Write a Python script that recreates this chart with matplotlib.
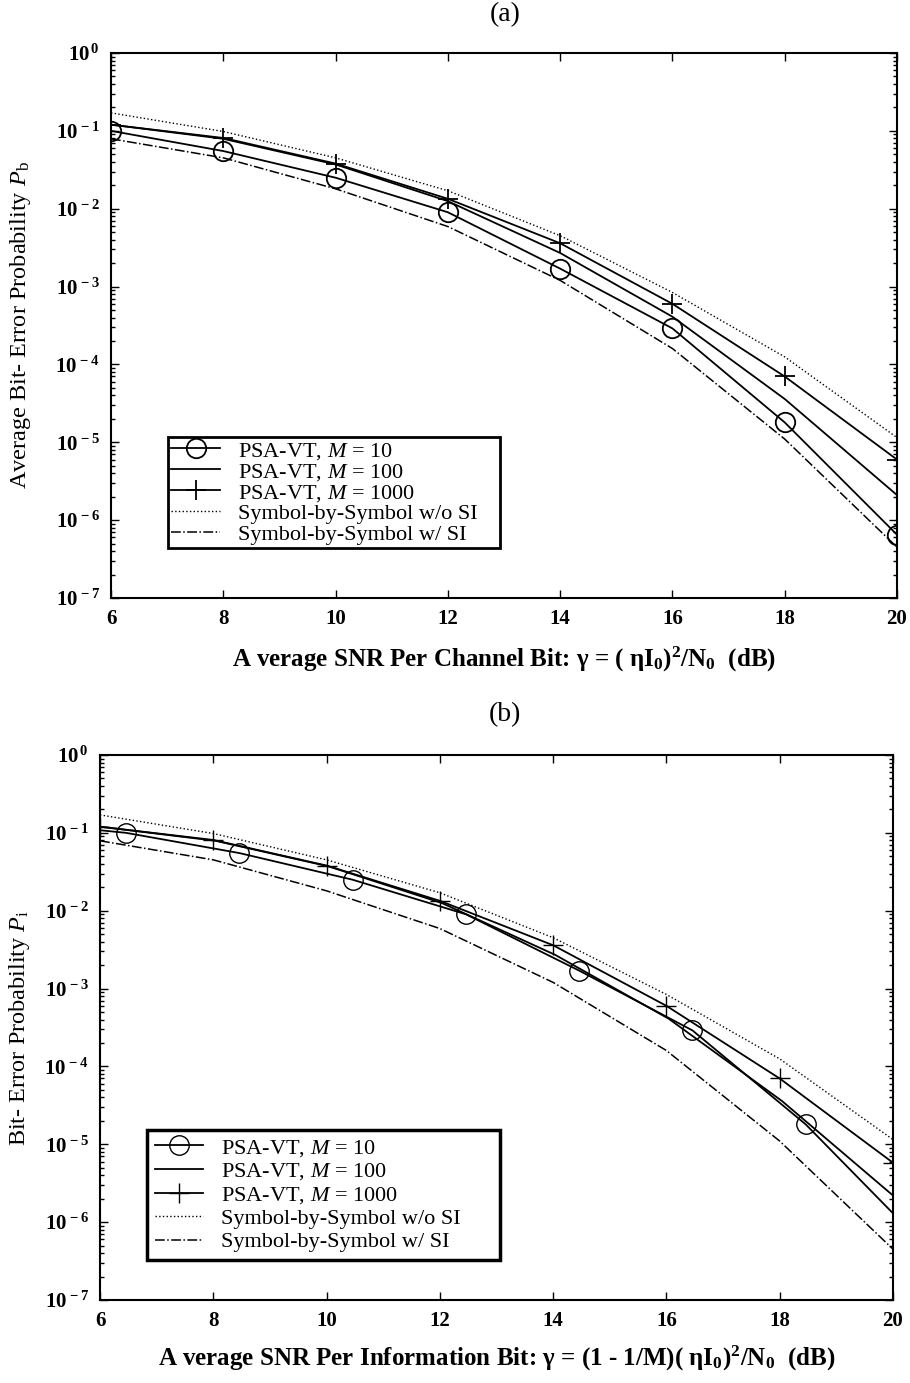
import numpy as np
import matplotlib
matplotlib.use("Agg")
from matplotlib import pyplot as plt
from matplotlib.ticker import LogLocator, FixedLocator, NullFormatter, FuncFormatter

plt.rcParams['font.family'] = ['Liberation Serif', 'DejaVu Serif']
plt.rcParams['mathtext.fontset'] = 'custom'
plt.rcParams['mathtext.rm'] = 'Liberation Serif'
plt.rcParams['mathtext.it'] = 'Liberation Serif:italic'
plt.rcParams['mathtext.bf'] = 'Liberation Serif:bold'
plt.rcParams['mathtext.default'] = 'regular'
plt.rcParams['axes.unicode_minus'] = False

# channel SNR grid (dB), panel (a)
snr = [6, 8, 10, 12, 14, 16, 18, 20]
a_m10 = [0.10, 0.055, 0.025, 0.0090, 0.0017, 2.9e-4, 1.8e-5, 6.5e-7]
a_m100 = [0.12, 0.079, 0.037, 0.0125, 0.0027, 4.1e-4, 3.6e-5, 2.1e-6]
a_m1000 = [0.12, 0.081, 0.038, 0.0134, 0.0036, 6.0e-4, 7.0e-5, 6.0e-6]
no_si = [0.17, 0.098, 0.045, 0.017, 0.0045, 8.4e-4, 1.25e-4, 1.15e-5]
w_si = [0.079, 0.045, 0.018, 0.0059, 0.0012, 1.6e-4, 1.1e-5, 4.5e-7]

# panel (b): information-bit SNR, M=10 curve shifted right
b_snr_m10 = [6.0, 6.46, 8.46, 10.46, 12.46, 14.46, 16.46, 18.46, 20.0]
b_m10 = [0.108, 0.10, 0.055, 0.025, 0.0090, 0.0017, 2.9e-4, 1.8e-5, 1.3e-6]
b_snr_m100 = [6.0, 8.04, 10.04, 12.04, 14.04, 16.04, 18.04, 20.0]
b_m100 = [0.12, 0.079, 0.037, 0.0125, 0.0027, 4.1e-4, 3.6e-5, 2.2e-6]
b_m1000 = [0.12, 0.081, 0.038, 0.0134, 0.0036, 6.0e-4, 7.0e-5, 5.8e-6]

y_decades = [1e-7, 1e-6, 1e-5, 1e-4, 1e-3, 1e-2, 1e-1, 1e0]

labels = [r'PSA-VT, $\mathit{M}$ = 10', r'PSA-VT, $\mathit{M}$ = 100', r'PSA-VT, $\mathit{M}$ = 1000',
          'Symbol-by-Symbol w/o SI', 'Symbol-by-Symbol w/ SI']


def style_axes(ax):
    ax.set_yscale('log')
    ax.set_xlim(6, 20)
    ax.set_ylim(1e-7, 1)
    ax.xaxis.set_major_locator(FixedLocator(snr))
    ax.yaxis.set_major_locator(FixedLocator(y_decades))
    ax.yaxis.set_minor_locator(LogLocator(base=10, subs=np.arange(2, 10), numticks=100))
    ax.yaxis.set_minor_formatter(NullFormatter())
    ax.yaxis.set_major_formatter(FuncFormatter(lambda v, p: '10$^{\\,%d}$' % round(np.log10(v))))
    ax.tick_params(which='both', direction='in', top=True, right=True, width=1)
    ax.tick_params(which='major', length=6, labelsize=15, pad=8)
    ax.tick_params(which='minor', length=3)
    for t in ax.get_xticklabels() + ax.get_yticklabels():
        t.set_fontweight('bold')
    for s in ax.spines.values():
        s.set_linewidth(1.5)


fig = plt.figure(figsize=(9.1, 13.83), dpi=100)

# ---- (a)
ax1 = fig.add_axes([0.122, 0.5676, 0.8637, 0.3941])
ax1.plot(snr, a_m10, 'k-', marker='o', mfc='none', ms=14, mew=1.3, lw=1.3, label=labels[0])
ax1.plot(snr, a_m100, 'k-', lw=1.3, label=labels[1])
ax1.plot(snr, a_m1000, 'k-', marker='+', ms=15, mew=1.3, lw=1.3, label=labels[2])
ax1.plot(snr, no_si, 'k:', lw=1.0, label=labels[3])
ax1.plot(snr, w_si, 'k-.', lw=1.1, label=labels[4])
style_axes(ax1)
ax1.set_xlabel(r'A verage SNR Per Channel Bit: γ = ( ηI$_0$)$^2$/N$_0$  (dB)',
               fontsize=18, fontweight='bold', labelpad=11)
ax1.set_ylabel(r'Average Bit- Error Probability $\mathit{P}$$_{\rm b}$', fontsize=17.5)
ax1.yaxis.set_label_coords(-0.099, 0.5)
leg1 = ax1.legend(loc='lower left', bbox_to_anchor=(0.0725, 0.0917, 0.422, 0.2), mode='expand',
                  borderaxespad=0, fontsize=16, fancybox=False, edgecolor='k', framealpha=1,
                  handlelength=2.2, labelspacing=0.0, borderpad=0.15)
leg1.get_frame().set_linewidth(2)
fig.text(0.555, 1 - 15 / 1383, '(a)', ha='center', va='center', fontsize=20)

# ---- (b)
ax2 = fig.add_axes([0.1099, 0.0600, 0.8714, 0.3941])
ax2.plot(b_snr_m10, b_m10, 'k-', marker='o', mfc='none', ms=14, mew=1.0, lw=1.3,
         markevery=list(range(1, 8)), label=labels[0])
ax2.plot(b_snr_m100, b_m100, 'k-', lw=1.3, label=labels[1])
ax2.plot(snr, b_m1000, 'k-', marker='+', ms=15, mew=1.0, lw=1.3, label=labels[2])
ax2.plot(snr, no_si, 'k:', lw=1.0, label=labels[3])
ax2.plot(snr, w_si, 'k-.', lw=1.1, label=labels[4])
style_axes(ax2)
ax2.set_xlabel(r'A verage SNR Per Information Bit: γ = (1 - 1/M)( ηI$_0$)$^2$/N$_0$  (dB)',
               fontsize=18, fontweight='bold', labelpad=9)
ax2.set_ylabel(r'Bit- Error Probability $\mathit{P}$$_{\rm i}$', fontsize=17.5)
ax2.yaxis.set_label_coords(-0.086, 0.5)
leg2 = ax2.legend(loc='lower left', bbox_to_anchor=(0.059, 0.073, 0.445, 0.25), mode='expand',
                  borderaxespad=0, fontsize=16, fancybox=False, edgecolor='k', framealpha=1,
                  handlelength=2.2, labelspacing=0.12, borderpad=0.35)
leg2.get_frame().set_linewidth(2.5)
fig.text(0.555, 1 - 715 / 1383, '(b)', ha='center', va='center', fontsize=20)

fig.savefig('out.png', dpi=100)
